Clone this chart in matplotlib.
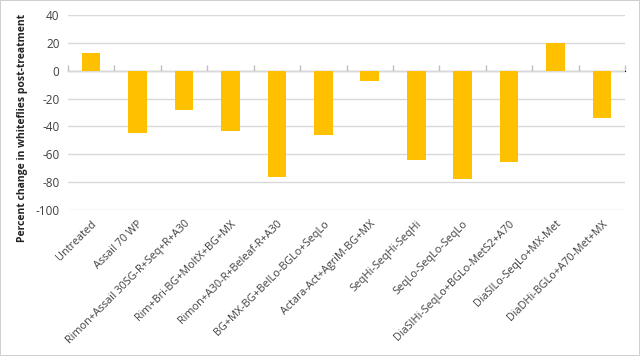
import matplotlib
matplotlib.use("Agg")
import matplotlib.pyplot as plt
import numpy as np

# treatments and percent change
treatments = ["Untreated", "Assail 70 WP", "Rimon+Assail 30SG-R+Seq+R+A30",
              "Rim+Bri-BG+MoltX+BG+MX", "Rimon+A30-R+Beleaf-R+A30",
              "BG+MX-BG+BelLo-BGLo+SeqLo", "Actara-Act+AgriM-BG+MX",
              "SeqHi-SeqHi-SeqHi", "SeqLo-SeqLo-SeqLo",
              "DiaSIHi-SeqLo+BGLo-MetS2+A70", "DiaSILo-SeqLo+MX-Met",
              "DiaDHi-BGLo+A70-Met+MX"]
pct_change = [13, -45, -28, -43, -76, -46, -7.5, -64, -78, -65.5, 20, -34]
yticks = [40, 20, 0, -20, -40, -60, -80, -100]

plt.rcParams['font.family'] = ['Open Sans', 'DejaVu Sans']

fig = plt.figure(figsize=(6.4, 3.56), dpi=100, linewidth=1.2, edgecolor='#D0D0D0')
ax = fig.add_axes([0.106, 0.41, 0.871, 0.548])

x = np.arange(len(treatments))
ax.bar(x, pct_change, width=0.4, color='#FFC000', zorder=3)

ax.set_ylim(-100, 40)
ax.set_xlim(-0.5, len(treatments) - 0.5)
ax.set_yticks(yticks)
ax.set_yticklabels([str(v) for v in yticks], fontsize=8.5, color='#404040')
ax.yaxis.grid(True, color='#D9D9D9', linewidth=1, zorder=0)
ax.tick_params(axis='y', length=0, pad=6)

ax.set_xticks(x)
ax.set_xticklabels(treatments, rotation=45, ha='right', rotation_mode='anchor',
                   fontsize=7.8, color='#404040')
ax.tick_params(axis='x', length=0, pad=6)

for s in ax.spines.values():
    s.set_visible(False)

# category axis through zero with boundary tick marks
zero_frac = (0 - (-100)) / (40 - (-100))
sec = ax.secondary_xaxis(zero_frac)
sec.set_xticks(np.arange(len(treatments) + 1) - 0.5)
sec.set_xticklabels([])
sec.tick_params(axis='x', direction='out', length=4, color='#BFBFBF', width=1)
sec.spines['bottom'].set_color('#BFBFBF')
sec.spines['bottom'].set_linewidth(1)
sec.spines['bottom'].set_zorder(4)

ax.set_ylabel('Percent change in whiteflies post-treatment', fontsize=7.5,
              fontweight='bold', color='#222222')
ax.yaxis.set_label_coords(-0.072, 0.42)

fig.savefig('out.png', dpi=100, edgecolor=fig.get_edgecolor())
